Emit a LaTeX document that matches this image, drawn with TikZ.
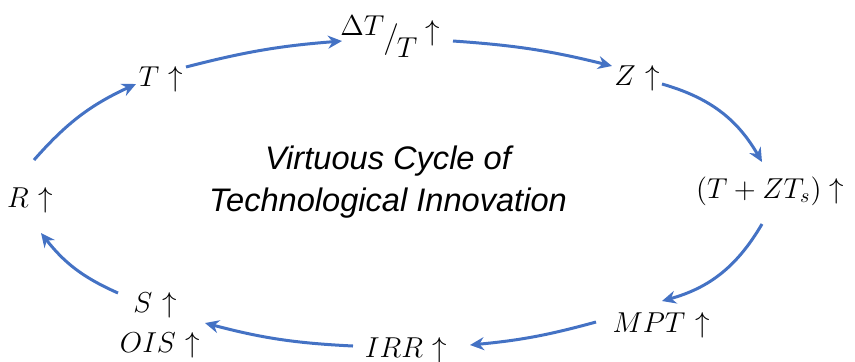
\documentclass[tikz,border=0pt]{standalone}
\usepackage{fontspec}
\newfontfamily\arialfont{Liberation Sans}
\usetikzlibrary{arrows.meta,calc}
\definecolor{cycblue}{HTML}{4472C4}
\newcommand\upa{\mskip1mu\uparrow}
\tikzset{
  lbl/.style={inner sep=0pt, anchor=base, font=\fontsize{14.5}{17}\selectfont},
  cyc/.style={draw=cycblue, line width=1.5pt, -{Stealth[length=7pt,width=6.5pt]}},
}
\begin{document}
\begin{tikzpicture}[x=0.5pt,y=-0.5pt]
\useasboundingbox (0,0) rectangle (855,361);
% nodes
\node[lbl] (R) at (30,207) {$R\upa$};
\node[lbl] (T) at (161,86) {$T\upa$};
\node[lbl] (D) at (390,45) {\raisebox{5pt}{$\Delta T$}\kern-0.5pt\raisebox{-1pt}{\scalebox{1.1}{$/$}}\kern-1pt\raisebox{-6pt}{$T$}\kern4pt\raisebox{2.5pt}{$\uparrow$}};
\node[lbl] (Z) at (637,85) {$Z\upa$};
\node[lbl] (C) at (770,198) {$(T+ZT_s)\uparrow$};
\node[lbl] (M) at (661,332) {$MPT\upa$};
\node[lbl] (I) at (406,357) {$IRR\upa$};
\node[lbl] (O) at (160,352) {$OIS\upa$};
\node[lbl] (S) at (155,312) {$S\upa$};
\node[inner sep=0pt, align=center, font=\arialfont\itshape\fontsize{16.3}{21}\selectfont] (title) at (388,182) {Virtuous Cycle of\\Technological Innovation};
% connectors
\draw[cyc] ($(R.base)+(4,-47)$) to[bend left=12] ($(T.base)+(-25,-2)$);
\draw[cyc] ($(T.base)+(25,-19)$) to[bend left=5] ($(D.base)+(-48,-4)$);
\draw[cyc] ($(D.base)+(63,-4)$) to[bend left=5] ($(Z.base)+(-25,-19)$);
\draw[cyc] ($(Z.base)+(25,-1)$) to[bend left=22] ($(C.base)+(-8,-36)$);
\draw[cyc] ($(C.base)+(-8,26)$) to[bend left=22] ($(M.base)+(1,-31)$);
\draw[cyc] ($(M.base)+(-65,-10)$) to[bend left=5] ($(I.base)+(64,-12)$);
\draw[cyc] ($(I.base)+(-53,-11)$) to[bend left=6] ($(O.base)+(45,-29)$);
\draw[cyc] ($(S.base)+(-37,-19)$) to[bend left=14] ($(R.base)+(11,26)$);
\end{tikzpicture}
\end{document}
